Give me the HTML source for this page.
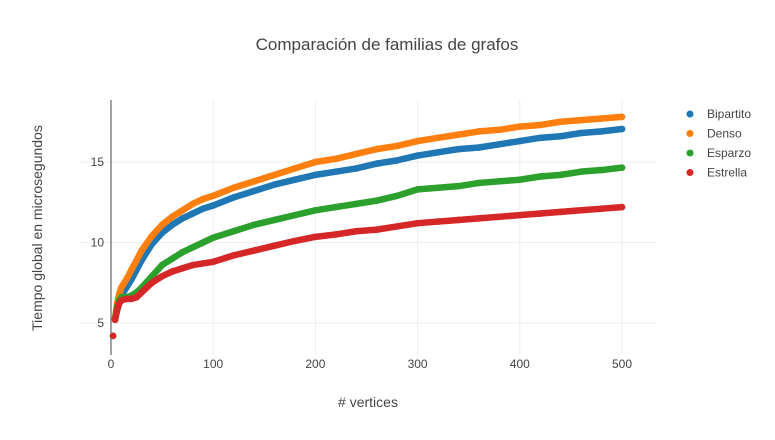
<!DOCTYPE html>
<html><head><meta charset="utf-8"><style>
body{margin:0;background:#fff;font-family:"Liberation Sans","DejaVu Sans",sans-serif}
svg text{font-family:"Liberation Sans","DejaVu Sans",sans-serif;fill:#444}
</style></head><body>
<svg id="chart" width="775" height="435" xmlns="http://www.w3.org/2000/svg">
<text x="387" y="50" font-size="17" text-anchor="middle">Comparación de familias de grafos</text>
<g id="grid"></g>
<g id="series"></g>
<text x="368" y="407" font-size="14" text-anchor="middle"># vertices</text>
<text transform="translate(42,228) rotate(-90)" font-size="14" text-anchor="middle">Tiempo global en microsegundos</text>
<g id="legend"></g>
</svg>
<script>
const xs=[2,4,6,8,10,15,20,25,30,40,50,60,70,80,90,100,120,140,160,180,200,220,240,260,280,300,320,340,360,380,400,420,440,460,480,500];
const bipartito=[4.2,5.2,5.9,6.4,6.7,7.2,7.7,8.3,8.9,9.9,10.6,11.1,11.5,11.8,12.1,12.3,12.8,13.2,13.6,13.9,14.2,14.4,14.6,14.9,15.1,15.4,15.6,15.8,15.9,16.1,16.3,16.5,16.6,16.8,16.9,17.05];
const denso=[4.2,5.3,6.2,6.8,7.2,7.7,8.3,8.9,9.5,10.4,11.1,11.6,12.0,12.4,12.7,12.9,13.4,13.8,14.2,14.6,15.0,15.2,15.5,15.8,16.0,16.3,16.5,16.7,16.9,17.0,17.2,17.3,17.5,17.6,17.7,17.8];
const esparzo=[4.2,5.3,6.0,6.4,6.6,6.6,6.7,6.9,7.2,7.9,8.6,9.0,9.4,9.7,10.0,10.3,10.7,11.1,11.4,11.7,12.0,12.2,12.4,12.6,12.9,13.3,13.4,13.5,13.7,13.8,13.9,14.1,14.2,14.4,14.5,14.65];
const estrella=[4.2,5.2,5.8,6.2,6.4,6.5,6.5,6.6,6.9,7.5,7.9,8.2,8.4,8.6,8.7,8.8,9.2,9.5,9.8,10.1,10.35,10.5,10.7,10.8,11.0,11.2,11.3,11.4,11.5,11.6,11.7,11.8,11.9,12.0,12.1,12.2];
const seriesNames=["Bipartito","Denso","Esparzo","Estrella"];
const xTicks=[0,100,200,300,400,500];
const yTicks=[5,10,15];
const colors=["#1f77b4","#ff7f0e","#2ca02c","#d62728"];
const NS="http://www.w3.org/2000/svg";
const X=v=>111+v*1.022, Y=v=>323-(v-5)*16.1;
function mk(t,a,p){const e=document.createElementNS(NS,t);for(const k in a)e.setAttribute(k,a[k]);p.appendChild(e);return e;}
const grid=document.getElementById('grid');
xTicks.forEach(t=>{
 if(t>0){const l=mk('line',{x1:X(t),x2:X(t),y1:100,y2:355,stroke:'#eee'},grid);
 
 }
 const tx=mk('text',{x:X(t),y:368,'font-size':12,'text-anchor':'middle'},grid);tx.textContent=t;
 
 
});
yTicks.forEach(t=>{
 const l=mk('line',{x1:80,x2:657,y1:Y(t),y2:Y(t),stroke:'#eee'},grid);
 
 
 const tx=mk('text',{x:104,y:Y(t)+4,'font-size':12,'text-anchor':'end'},grid);tx.textContent=t;
 
 
});
const z=mk('line',{x1:X(0),x2:X(0),y1:100,y2:355,stroke:'#444','stroke-width':1},grid);


const sg=document.getElementById('series');
[bipartito,denso,esparzo,estrella].forEach((vals,i)=>{
 const g=mk('g',{},sg);
 
 
 const pts=xs.slice(1).map((x,j)=>X(x)+','+Y(vals[j+1])).join(' ');
 const pl=mk('polyline',{points:pts,fill:'none',stroke:colors[i],'stroke-width':6.5,'stroke-linecap':'round','stroke-linejoin':'round'},g);
 
 
 xs.forEach((x,j)=>{const c=mk('circle',{cx:X(x),cy:Y(vals[j]),r:3.3,fill:colors[i]},g);
  
  });
});
const lg=document.getElementById('legend');
seriesNames.forEach((n,i)=>{
 const g=mk('g',{},lg);
 
 
 mk('circle',{cx:690,cy:114+i*19.5,r:3.5,fill:colors[i]},g);
 const t=mk('text',{x:707,y:118+i*19.5,'font-size':12},g);t.textContent=n;
});
</script>
</body></html>
